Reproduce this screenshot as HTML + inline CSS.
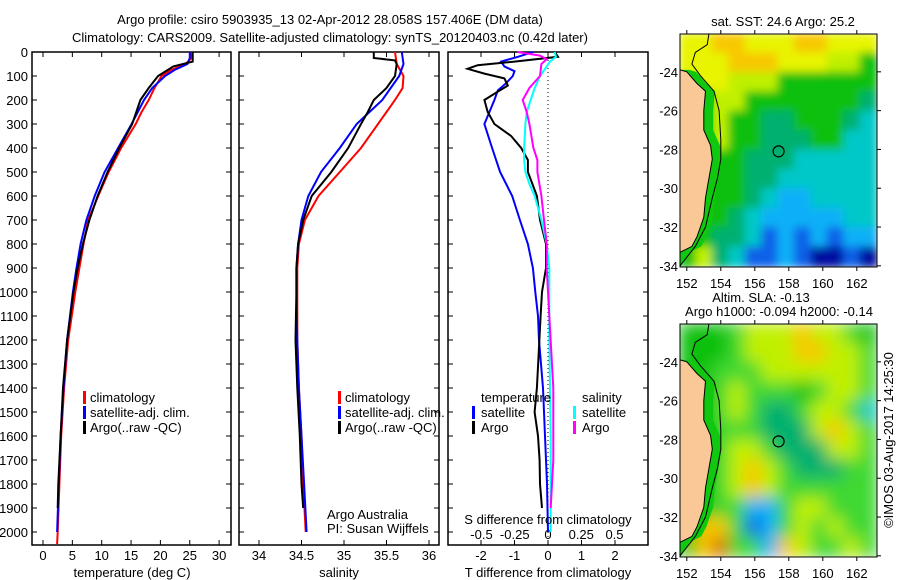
<!DOCTYPE html>
<html><head><meta charset="utf-8"><style>
html,body{margin:0;padding:0;background:#fff;}
svg{display:block;font-family:"Liberation Sans",sans-serif;}
text{font-size:13px;fill:#000;}
</style></head><body>
<svg id="fig" width="900" height="580" viewBox="0 0 900 580">
<defs>
<filter id="blur1" x="-10%" y="-10%" width="120%" height="120%"><feGaussianBlur stdDeviation="4.5"/></filter>
<filter id="blur2" x="-10%" y="-10%" width="120%" height="120%"><feGaussianBlur stdDeviation="8"/></filter>
<clipPath id="clip1"><rect x="680" y="34" width="197" height="233"/></clipPath>
<clipPath id="clip2"><rect x="680" y="324" width="197" height="233"/></clipPath>
</defs>
<text x="330" y="24" text-anchor="middle">Argo profile: csiro 5903935_13 02-Apr-2012 28.058S 157.406E (DM data)</text>
<text x="330" y="42" text-anchor="middle">Climatology: CARS2009. Satellite-adjusted climatology: synTS_20120403.nc (0.42d later)</text>
<g id="p1"></g>
<g id="p2"></g>
<g id="p3"></g>
<g id="m1"></g>
<g id="m2"></g>
<text transform="translate(893,440) rotate(-90)" text-anchor="middle">©IMOS 03-Aug-2017 14:25:30</text>
</svg>
<script>
// ---- profile data ----
const tempDepths = [0,25,50,75,100,150,200,250,300,400,500,600,700,800,900,1000,1200,1400,1600,1800,2000,2050];
const tempClim   = [25.3,25.3,24.3,21.8,20.2,19.0,18.0,16.8,15.8,13.3,11.2,9.4,7.7,6.9,6.2,5.5,4.3,3.6,3.1,2.8,2.5,2.4];
const satDepths  = [0,25,50,75,100,150,200,300,400,500,600,700,800,900,1000,1200,1400,1600,1800,2000];
const tempSat    = [25.0,25.0,24.6,22.4,20.8,18.6,17.2,15.1,12.8,10.5,8.8,7.4,6.4,5.7,5.1,4.1,3.5,3.0,2.7,2.4];
const argoDepths = [0,40,60,100,150,200,300,400,500,600,700,800,900,1000,1200,1400,1600,1800,1900];
const tempArgo   = [25.5,25.5,22.2,19.6,18.0,16.6,15.2,13.0,11.0,9.3,7.9,6.8,5.9,5.2,4.1,3.4,3.0,2.6,2.5];
const salDepths  = [0,50,100,150,200,250,300,400,500,600,700,800,900,1000,1200,1400,1600,1800,2000];
const salClim    = [35.6,35.62,35.7,35.69,35.6,35.5,35.4,35.2,34.95,34.7,34.54,34.47,34.45,34.45,34.45,34.47,34.5,34.52,34.55];
const salSat     = [35.68,35.7,35.65,35.55,35.45,35.3,35.15,34.95,34.73,34.58,34.5,34.46,34.44,34.44,34.45,34.47,34.5,34.53,34.56];
const salArgoDepths = [0,25,35,50,100,150,200,250,300,400,500,600,700,800,900,1000,1200,1400,1600,1800,1900];
const salArgo    = [35.35,35.35,35.6,35.62,35.6,35.5,35.35,35.28,35.2,35.05,34.85,34.62,34.52,34.46,34.44,34.44,34.43,34.45,34.48,34.5,34.52];
const dtArgoDepths = [0,20,40,55,70,90,110,140,165,200,250,300,350,400,450,500,600,700,800,900,1000,1100,1400,1500,1600,1700,1800,1900];
const dtArgo     = [0.2,0.3,-1.0,-2.1,-2.4,-1.9,-1.3,-1.2,-1.5,-1.9,-1.8,-1.6,-1.1,-0.8,-0.6,-0.6,-0.33,-0.24,-0.06,-0.06,-0.18,-0.22,-0.33,-0.4,-0.3,-0.25,-0.24,-0.18];
const dtSatDepths = [0,20,40,60,80,100,130,160,200,250,300,400,500,600,700,800,900,1000,1100,1200,1400,1600,1800,2000];
const dtSat      = [-0.45,-0.9,-1.4,-1.3,-1.0,-1.05,-1.25,-1.5,-1.6,-1.75,-1.9,-1.67,-1.43,-1.07,-0.84,-0.6,-0.45,-0.38,-0.3,-0.27,-0.15,-0.09,-0.03,0];
const dsSatDepths = [0,20,40,60,100,150,200,250,300,400,450,500,550,600,700,800,900,1200,1600,2000];
const dsSat      = [0.05,0.06,0.015,-0.01,-0.06,-0.1,-0.13,-0.16,-0.17,-0.18,-0.18,-0.17,-0.14,-0.1,-0.05,-0.01,0.01,0.01,0.02,0.02];
const dsArgoDepths = [0,15,30,50,100,150,200,250,300,400,450,500,600,700,800,900,1000,1400,1700,1800,1900];
const dsArgo     = [-0.23,-0.06,-0.01,-0.05,-0.06,-0.14,-0.19,-0.16,-0.14,-0.11,-0.08,-0.08,-0.05,-0.03,-0.01,-0.01,0.0,0.04,0.04,0.03,0.02];
const depthTicks = [0,100,200,300,400,500,600,700,800,900,1000,1100,1200,1300,1400,1500,1600,1700,1800,1900,2000];
const tempTicks  = [0,5,10,15,20,25,30];
const salTicks   = [34,34.5,35,35.5,36];
const dtTicks    = [-2,-1,0,1,2];
const dsTicks    = [-0.5,-0.25,0,0.25,0.5];
// ---- map data (1-degree cells, rows north to south) ----
const sstGrid = ["YYOOYYYOOYYY","YYYOOOYYYyyG","yYYyyyGGGGGG","GGyyGGGGGGGT","GGyGGTTGGGTC","GGyGGTTTGGCC","GGGGTTTCCCCC","GGGGTTCCCCCC","GGGGTCLLCCCC","GGGTCLLLLLCC","GGTTCBLBLBLL","GyTCBBLBDDBD"];
const slaGrid = ["GGGgyyyOyygG","GGGgyyyOOyyg","GGgggyyyyyyg","GGgygggGgyyg","GGgygTTgyygC","GGgggTTTyOyg","GGgyygTTTyyg","GGgyOygTTTgg","GGgyOygggggg","GGggLLgyyggg","GOOgBLgygygg","GORggLOyggyg"];
const palette = {Y:"#e8f400",O:"#f8c800",R:"#d87000",y:"#c0f000",G:"#10c010",g:"#40d830",T:"#00b070",C:"#00c8c8",L:"#10b0f8",B:"#1060e8",D:"#0010a0"};
const lonTicks = [152,154,156,158,160,162];
const latTicks = [24,26,28,30,32,34];
const coastLon = [151.6,152.0,152.6,153.1,153.0,153.0,153.4,153.5,153.3,153.1,153.0,152.6,152.3,151.6];
const coastLat = [23.9,24.0,24.6,25.0,26.0,27.0,27.8,28.5,29.5,30.5,31.5,32.5,33.0,33.3];
const shelfLon = [153.3,153.2,152.5,152.3,152.8,153.6,153.9,154.0,154.0,153.8,153.5,153.1,152.5,151.6];
const shelfLat = [22.05,22.6,23.0,23.6,24.2,25.0,26.0,27.5,28.5,29.5,30.5,32.0,33.0,34.0];
const floatLon = 157.4, floatLat = 28.1;

const NS = "http://www.w3.org/2000/svg";
function mk(parent, tag, attrs){const e=document.createElementNS(NS,tag);for(const k in attrs)e.setAttribute(k,attrs[k]);parent.appendChild(e);return e;}
const yD = d => 52 + d*0.24;
const TOP=52, BOT=545;

function frame(g,x0,x1){
  const r=mk(g,'rect',{x:x0,y:TOP,width:x1-x0,height:BOT-TOP,fill:'none',stroke:'#000','stroke-width':1.5});
  
  
  depthTicks.forEach(d=>{
    mk(g,'line',{x1:x0,x2:x0+5,y1:yD(d),y2:yD(d),stroke:'#000'});
    mk(g,'line',{x1:x1-5,x2:x1,y1:yD(d),y2:yD(d),stroke:'#000'});
  });
}
function xticks(g,ticks,fx,labY){
  ticks.forEach(v=>{
    const x=fx(v);
    mk(g,'line',{x1:x,x2:x,y1:BOT,y2:BOT-5,stroke:'#000'});
    mk(g,'line',{x1:x,x2:x,y1:TOP,y2:TOP+5,stroke:'#000'});
    if(labY){const t=mk(g,'text',{x:x,y:labY,'text-anchor':'middle'});t.textContent=String(v);
      
      }
  });
}
function line(g,depths,vals,fx,color,name,w){
  const pts=depths.map((d,i)=>fx(vals[i]).toFixed(1)+','+yD(d).toFixed(1)).join(' ');
  const p=mk(g,'polyline',{points:pts,fill:'none',stroke:color,'stroke-width':w||2,'stroke-linejoin':'miter'});
  
  
}
function label(g,x,y,s,anchor,name){const t=mk(g,'text',{x:x,y:y,'text-anchor':anchor||'start'});t.textContent=s;
  
  return t;}
function legendMark(g,x,y,color){mk(g,'rect',{x:x,y:y-11,width:3,height:13,fill:color});}

// Panel 1
const g1=document.getElementById('p1');
const fT = t => 43 + t*5.87;
frame(g1,32,231);
depthTicks.forEach(d=>{const t=mk(g1,'text',{x:28,y:yD(d)+5,'text-anchor':'end'});t.textContent=d;
  
  });
xticks(g1,tempTicks,fT,560);
line(g1,tempDepths,tempClim,fT,'#ff0000','temp-climatology-line');
line(g1,satDepths,tempSat,fT,'#0000ff','temp-satellite-line');
line(g1,argoDepths,tempArgo,fT,'#000000','temp-argo-line');
label(g1,132,577,'temperature (deg C)','middle','x-axis-title-temperature');
legendMark(g1,83,402,'#ff0000');label(g1,90,402,'climatology','start','legend-climatology');
legendMark(g1,83,417,'#0000ff');label(g1,90,417,'satellite-adj. clim.','start','legend-satellite');
legendMark(g1,83,432,'#000000');label(g1,90,432,'Argo(..raw -QC)','start','legend-argo');

// Panel 2
const g2=document.getElementById('p2');
const fS = s => 259 + (s-34)*85;
frame(g2,239,439);
xticks(g2,salTicks,fS,560);
line(g2,salDepths,salClim,fS,'#ff0000','sal-climatology-line');
line(g2,salDepths,salSat,fS,'#0000ff','sal-satellite-line');
line(g2,salArgoDepths,salArgo,fS,'#000000','sal-argo-line');
label(g2,339,577,'salinity','middle','x-axis-title-salinity');
legendMark(g2,338,402,'#ff0000');label(g2,345,402,'climatology','start','legend-climatology-2');
legendMark(g2,338,417,'#0000ff');label(g2,345,417,'satellite-adj. clim.','start','legend-satellite-2');
legendMark(g2,338,432,'#000000');label(g2,345,432,'Argo(..raw -QC)','start','legend-argo-2');
label(g2,327,519,'Argo Australia','start','credit-argo-australia');
label(g2,327,533,'PI: Susan Wijffels','start','credit-pi');

// Panel 3
const g3=document.getElementById('p3');
const fDT = v => 548 + v*33.5;
const fDS = v => 548 + v*133;
frame(g3,448,648);
xticks(g3,dtTicks,fDT,560);
dsTicks.forEach(v=>{const t=mk(g3,'text',{x:fDS(v),y:539,'text-anchor':'middle'});
  t.textContent=(v<0?'-':'')+Math.abs(v);
  
  });
mk(g3,'line',{x1:548,x2:548,y1:TOP,y2:BOT,stroke:'#000','stroke-dasharray':'1,3'});
line(g3,dtSatDepths,dtSat,fDT,'#0000ff','dt-satellite-line');
line(g3,dtArgoDepths,dtArgo,fDT,'#000000','dt-argo-line');
line(g3,dsSatDepths,dsSat,fDS,'#00ffff','ds-satellite-line');
line(g3,dsArgoDepths,dsArgo,fDS,'#ff00ff','ds-argo-line');
label(g3,548,577,'T difference from climatology','middle','x-axis-title-t-diff');
label(g3,548,524,'S difference from climatology','middle','x-axis-title-s-diff');
label(g3,481,402,'temperature','start','legend-temperature-heading');
legendMark(g3,472,417,'#0000ff');label(g3,481,417,'satellite','start','legend-t-satellite');
legendMark(g3,472,432,'#000000');label(g3,481,432,'Argo','start','legend-t-argo');
label(g3,582,402,'salinity','start','legend-salinity-heading');
legendMark(g3,573,417,'#00ffff');label(g3,582,417,'satellite','start','legend-s-satellite');
legendMark(g3,573,432,'#ff00ff');label(g3,582,432,'Argo','start','legend-s-argo');

// Maps
function drawMap(g,top,grid,clipId,filt){
  const fx = lon => 680 + (lon-151.6)*17;
  const fy = lat => top + (lat-22.05)*19.4;
  const bg=mk(g,'g',{'clip-path':'url(#'+clipId+')'});
  const cells=mk(bg,'g',{filter:'url(#'+filt+')'});
  const cw=197/12, ch=233/12;
  grid.forEach((row,r)=>{[...row].forEach((c,k)=>{
    mk(cells,'rect',{x:680+k*cw-1,y:top+r*ch-1,width:cw+2,height:ch+2,fill:palette[c]});
  });});
  const strip=coastLon.map((l,i)=>fx(l+0.55)+','+fy(coastLat[i])).join(' ')+' '+fx(151.6)+','+fy(34.1)+' '+fx(151.0)+','+fy(34.1)+' '+fx(151.0)+','+fy(23.9);
  mk(bg,'polygon',{points:strip,fill:'#10c810'});
  const land=coastLon.map((l,i)=>fx(l)+','+fy(coastLat[i])).join(' ')+' '+fx(151.6)+','+fy(34.1)+' '+fx(151.0)+','+fy(34.1)+' '+fx(151.0)+','+fy(23.9);
  const lp=mk(bg,'polygon',{points:land,fill:'#fac896',stroke:'#000','stroke-width':1});
  
  
  const shelf=shelfLon.map((l,i)=>fx(l)+','+fy(shelfLat[i])).join(' ');
  const sp=mk(bg,'polyline',{points:shelf,fill:'none',stroke:'#000','stroke-width':1});
  
  
  const c=mk(g,'circle',{cx:fx(floatLon),cy:fy(floatLat),r:5.5,fill:'none',stroke:'#000','stroke-width':1.2});
  
  
  const fr=mk(g,'rect',{x:680,y:top,width:197,height:233,fill:'none',stroke:'#000','stroke-width':1});
  
  
  lonTicks.forEach(l=>{
    mk(g,'line',{x1:fx(l),x2:fx(l),y1:top,y2:top-4,stroke:'#000'});
    mk(g,'line',{x1:fx(l),x2:fx(l),y1:top+233,y2:top+237,stroke:'#000'});
    const t=mk(g,'text',{x:fx(l),y:top+254,'text-anchor':'middle'});t.textContent=l;
    
    
  });
  latTicks.forEach(l=>{
    mk(g,'line',{x1:877,x2:881,y1:fy(l),y2:fy(l),stroke:'#000'});
    const t=mk(g,'text',{x:678,y:fy(l)+5,'text-anchor':'end'});t.textContent='-'+l;
    
    
  });
}
drawMap(document.getElementById('m1'),34,sstGrid,'clip1','blur1');
drawMap(document.getElementById('m2'),324,slaGrid,'clip2','blur2');
label(document.getElementById('m1'),783,26,'sat. SST: 24.6 Argo: 25.2','middle','sst-map-title');
label(document.getElementById('m2'),761,302,'Altim. SLA: -0.13','middle','sla-map-title');
label(document.getElementById('m2'),779,316,'Argo h1000: -0.094 h2000: -0.14','middle','sla-map-subtitle');
</script>
</body></html>
